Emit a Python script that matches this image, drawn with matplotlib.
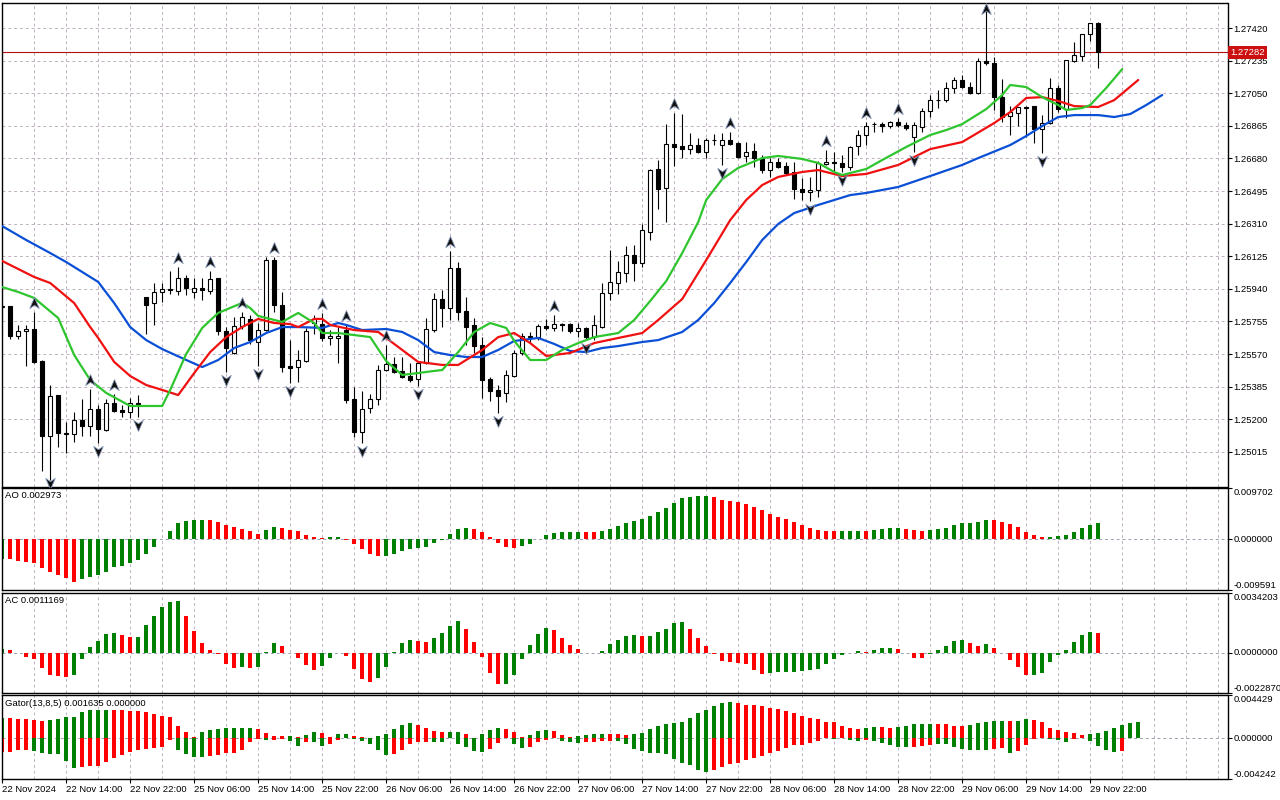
import numpy as np
import matplotlib
matplotlib.use("Agg")
import matplotlib.pyplot as plt
from matplotlib.path import Path
from matplotlib.patches import Rectangle

plt.rcParams['font.family'] = ['Liberation Sans', 'DejaVu Sans']

# ---------------- data ----------------
opens = [
1.25837,1.25842,1.25672,1.25701,1.25712,1.25530,1.25105,1.25337,1.25122,1.25116,
1.25196,1.25161,1.25258,1.25139,1.25292,1.25252,1.25241,1.25292,1.25893,1.25859,
1.25922,1.25935,1.25928,1.26001,1.25922,1.25945,1.25928,1.26001,1.25701,1.25576,
1.25729,1.25769,1.25638,1.25706,1.26103,1.25848,1.25502,1.25496,1.25530,1.25746,
1.25740,1.25661,1.25661,1.25706,1.25315,1.25127,1.25264,1.25315,1.25479,1.25513,
1.25474,1.25445,1.25428,1.25519,1.25706,1.25882,1.25831,1.26058,1.25814,1.25735,
1.25621,1.25428,1.25366,1.25349,1.25445,1.25576,1.25666,1.25666,1.25729,1.25718,
1.25740,1.25740,1.25701,1.25718,1.25666,1.25723,1.25916,1.25973,1.26030,1.26132,
1.26086,1.26262,1.26620,1.26512,1.26762,1.26750,1.26733,1.26756,1.26716,1.26784,
1.26756,1.26784,1.26767,1.26694,1.26722,1.26682,1.26614,1.26660,1.26637,1.26603,
1.26506,1.26489,1.26501,1.26648,1.26660,1.26654,1.26631,1.26750,1.26813,1.26875,
1.26875,1.26864,1.26887,1.26870,1.26801,1.26858,1.26949,1.27011,1.27011,1.27080,
1.27125,1.27085,1.27051,1.27233,1.27221,1.27028,1.26921,1.26938,1.26972,1.26977,
1.26847,1.26881,1.27080,1.26960,1.27233,1.27261,1.27386,1.27448]
highs = [
1.25854,1.25845,1.25735,1.25735,1.25808,1.25536,1.25394,1.25340,1.25184,1.25241,
1.25315,1.25371,1.25281,1.25315,1.25343,1.25281,1.25320,1.25337,1.25895,1.25973,
1.25973,1.26041,1.26064,1.26018,1.26001,1.26001,1.26041,1.26004,1.25723,1.25780,
1.25808,1.25791,1.25746,1.26121,1.26121,1.25922,1.25650,1.25593,1.25718,1.25791,
1.25803,1.25706,1.25723,1.25735,1.25383,1.25360,1.25343,1.25508,1.25621,1.25553,
1.25553,1.25519,1.25525,1.25774,1.25916,1.25933,1.26155,1.26092,1.25893,1.25774,
1.25666,1.25440,1.25394,1.25479,1.25593,1.25689,1.25695,1.25740,1.25769,1.25791,
1.25746,1.25746,1.25746,1.25723,1.25791,1.25973,1.26160,1.26098,1.26183,1.26189,
1.26308,1.26620,1.26671,1.26875,1.26938,1.26932,1.26824,1.26796,1.26796,1.26819,
1.26824,1.26830,1.26773,1.26773,1.26767,1.26699,1.26682,1.26682,1.26660,1.26660,
1.26569,1.26575,1.26665,1.26728,1.26716,1.26699,1.26750,1.26841,1.26887,1.26887,
1.26887,1.26892,1.26909,1.26887,1.26887,1.26966,1.27040,1.27068,1.27114,1.27142,
1.27153,1.27114,1.27250,1.27551,1.27256,1.27131,1.26977,1.26972,1.26977,1.26980,
1.26926,1.27136,1.27097,1.27238,1.27341,1.27386,1.27448,1.27452]
lows = [
1.25825,1.25655,1.25655,1.25502,1.25519,1.24906,1.24855,1.25042,1.25008,1.25071,
1.25105,1.25105,1.25065,1.25133,1.25241,1.25213,1.25207,1.25213,1.25683,1.25735,
1.25865,1.25911,1.25905,1.25905,1.25888,1.25877,1.25911,1.25679,1.25468,1.25570,
1.25712,1.25627,1.25502,1.25701,1.25808,1.25468,1.25405,1.25411,1.25525,1.25684,
1.25644,1.25621,1.25519,1.25292,1.25099,1.25065,1.25235,1.25281,1.25476,1.25462,
1.25434,1.25411,1.25388,1.25516,1.25695,1.25723,1.25763,1.25763,1.25621,1.25576,
1.25320,1.25303,1.25235,1.25298,1.25440,1.25564,1.25638,1.25650,1.25706,1.25701,
1.25701,1.25689,1.25666,1.25650,1.25650,1.25720,1.25876,1.25911,1.25979,1.25984,
1.26064,1.26217,1.26393,1.26319,1.26637,1.26682,1.26705,1.26711,1.26682,1.26756,
1.26643,1.26756,1.26682,1.26660,1.26631,1.26597,1.26575,1.26626,1.26586,1.26450,
1.26444,1.26438,1.26461,1.26643,1.26597,1.26603,1.26614,1.26699,1.26756,1.26830,
1.26830,1.26853,1.26858,1.26841,1.26716,1.26830,1.26915,1.26966,1.27000,1.27051,
1.27080,1.27045,1.27048,1.27210,1.26955,1.26887,1.26813,1.26864,1.26801,1.26767,
1.26711,1.26878,1.26943,1.26909,1.27227,1.27233,1.27346,1.27193]
closes = [
1.25842,1.25672,1.25701,1.25712,1.25525,1.25105,1.25332,1.25122,1.25116,1.25196,
1.25161,1.25258,1.25144,1.25292,1.25247,1.25241,1.25292,1.25286,1.25848,1.25922,
1.25939,1.25939,1.26001,1.25945,1.25945,1.25933,1.25996,1.25701,1.25604,1.25729,
1.25780,1.25650,1.25706,1.26103,1.25848,1.25496,1.25491,1.25536,1.25701,1.25769,
1.25661,1.25672,1.25672,1.25309,1.25127,1.25258,1.25315,1.25479,1.25513,1.25468,
1.25440,1.25422,1.25519,1.25712,1.25882,1.25831,1.26058,1.25808,1.25723,1.25615,
1.25422,1.25360,1.25332,1.25451,1.25576,1.25672,1.25672,1.25729,1.25718,1.25740,
1.25735,1.25701,1.25718,1.25666,1.25735,1.25916,1.25979,1.26035,1.26132,1.26086,
1.26274,1.26617,1.26506,1.26762,1.26745,1.26733,1.26756,1.26716,1.26784,1.26787,
1.26784,1.26762,1.26688,1.26716,1.26682,1.26614,1.26660,1.26631,1.26597,1.26506,
1.26489,1.26501,1.26654,1.26660,1.26654,1.26631,1.26745,1.26813,1.26864,1.26878,
1.26864,1.26887,1.26870,1.26853,1.26870,1.26949,1.27011,1.27014,1.27080,1.27125,
1.27085,1.27051,1.27233,1.27221,1.27028,1.26915,1.26943,1.26972,1.26969,1.26847,
1.26881,1.27080,1.26960,1.27238,1.27267,1.27386,1.27448,1.27282]

# Alligator lines (bar index, price)
jaw_idx = [0,3,6,8,12,14,16,18,20,23,25,27,29,31,33,35,37,40,42,43,45,48,50,52,54,56,58,60,62,64,
           67,69,71,73,75,77,80,82,85,87,89,91,93,95,97,99,102,106,108,112,116,120,122,126,128,130,
           132,134,137,139,141,143,145]
jaw_val = [1.26296,1.26217,1.26143,1.26092,1.25979,1.25859,1.25723,1.25649,1.25598,1.25536,
           1.25496,1.25536,1.25604,1.25638,1.25689,1.25723,1.25723,1.25718,1.25746,1.25735,
           1.25706,1.25712,1.25695,1.25649,1.25581,1.25564,1.25553,1.25553,1.25593,1.25644,
           1.25661,1.25627,1.25587,1.25581,1.25604,1.25615,1.25638,1.25649,1.25695,1.25763,
           1.25859,1.25973,1.26092,1.26217,1.26308,1.26370,1.26416,1.26472,1.26484,1.26518,
           1.26580,1.26643,1.26682,1.26756,1.26807,1.26864,1.26915,1.26926,1.26926,1.26915,
           1.26932,1.26983,1.27040]
teeth_idx = [0,4,6,9,11,12,14,16,18,20,22,24,26,28,30,32,34,36,37,39,40,41,44,47,50,52,55,57,60,62,
             64,66,68,71,74,77,80,82,85,88,91,93,95,97,100,102,105,108,112,116,120,124,126,128,130,
             132,134,137,139,142]
teeth_val = [1.26098,1.26007,1.25973,1.25859,1.25723,1.25661,1.25525,1.25445,1.25394,1.25366,
             1.25337,1.25462,1.25581,1.25666,1.25723,1.25769,1.25746,1.25740,1.25723,1.25769,
             1.25769,1.25735,1.25706,1.25695,1.25593,1.25525,1.25508,1.25508,1.25593,1.25666,
             1.25689,1.25632,1.25559,1.25576,1.25632,1.25661,1.25689,1.25763,1.25882,1.26103,
             1.26330,1.26444,1.26529,1.26575,1.26603,1.26614,1.26580,1.26592,1.26643,1.26733,
             1.26773,1.26881,1.26943,1.27023,1.27028,1.27006,1.26977,1.26972,1.27011,1.27125]
lips_idx = [0,2,4,7,9,11,13,16,20,21,23,25,27,30,31,32,35,37,39,40,42,46,48,50,52,54,55,57,59,61,
            63,64,66,68,70,72,74,77,79,81,83,85,87,88,90,92,95,97,100,102,104,105,108,110,113,116,
            118,120,123,125,126,128,130,132,133,135,136,138,140]
lips_val = [1.25950,1.25922,1.25888,1.25774,1.25564,1.25422,1.25349,1.25275,1.25275,1.25366,
            1.25570,1.25718,1.25803,1.25860,1.25831,1.25786,1.25752,1.25803,1.25746,1.25689,
            1.25689,1.25666,1.25530,1.25451,1.25462,1.25474,1.25479,1.25581,1.25695,1.25746,
            1.25718,1.25644,1.25536,1.25536,1.25593,1.25632,1.25666,1.25689,1.25763,1.25871,
            1.25984,1.26143,1.26319,1.26444,1.26563,1.26626,1.26682,1.26694,1.26677,1.26654,
            1.26603,1.26586,1.26620,1.26671,1.26745,1.26813,1.26841,1.26875,1.26960,1.27040,
            1.27097,1.27085,1.27028,1.26983,1.26955,1.26966,1.26983,1.27080,1.27187]

fractal_up = [4,11,14,22,26,30,34,40,43,48,56,69,84,91,103,108,112,123]
fractal_down = [6,12,17,28,32,36,45,52,62,73,90,101,105,114,130]

ao = [
-0.00370,-0.00383,-0.00408,-0.00427,-0.00447,-0.00542,-0.00619,-0.00683,-0.00746,-0.00810,
-0.00766,-0.00715,-0.00683,-0.00619,-0.00536,-0.00504,-0.00459,-0.00396,-0.00287,-0.00160,
0.00010,0.00147,0.00306,0.00345,0.00362,0.00364,0.00362,0.00325,0.00262,0.00223,
0.00185,0.00147,0.00089,0.00166,0.00223,0.00204,0.00166,0.00147,0.00083,0.00032,
0.00013,0.00032,0.00033,-0.00010,-0.00096,-0.00191,-0.00287,-0.00325,-0.00320,-0.00287,
-0.00236,-0.00191,-0.00179,-0.00153,-0.00077,-0.00020,0.00089,0.00185,0.00204,0.00185,
0.00128,0.00032,-0.00077,-0.00153,-0.00179,-0.00140,-0.00096,-0.00005,0.00070,0.00108,
0.00128,0.00130,0.00131,0.00127,0.00126,0.00147,0.00185,0.00242,0.00300,0.00345,
0.00376,0.00434,0.00510,0.00587,0.00683,0.00778,0.00798,0.00817,0.00819,0.00798,
0.00740,0.00721,0.00702,0.00664,0.00606,0.00549,0.00472,0.00415,0.00376,0.00319,
0.00262,0.00204,0.00166,0.00147,0.00145,0.00147,0.00148,0.00149,0.00147,0.00166,
0.00185,0.00204,0.00206,0.00185,0.00166,0.00147,0.00166,0.00191,0.00204,0.00262,
0.00300,0.00302,0.00319,0.00357,0.00355,0.00319,0.00281,0.00223,0.00128,0.00070,
0.00032,0.00034,0.00051,0.00070,0.00128,0.00204,0.00262,0.002973]
ao_col = ("GRRRRRRRRR" "GGGGGGGGGG" "GGGGGGRRRR" "RRRGGRRRRR" "RGGRRRRRGG" "GGGGGGGGGR"
          "RRRRRGGGGG" "GGGRRGGGGG" "GGGGGGGGGR" "RRRRRRRRRR" "RRRRRGGGRG" "GGGRRRGGGG"
          "GGGGRRRRRR" "RGGGGGGG")

ac = [
0.00019,0.00015,-0.00004,-0.00023,-0.00035,-0.00086,-0.00128,-0.00134,-0.00140,-0.00128,
-0.00038,0.00033,0.00067,0.00109,0.00115,0.00102,0.00090,0.00091,0.00159,0.00211,
0.00263,0.00291,0.00297,0.00211,0.00125,0.00058,0.00015,-0.00010,-0.00063,-0.00086,
-0.00081,-0.00086,-0.00081,0.00004,0.00058,0.00038,-0.00004,-0.00029,-0.00071,-0.00098,
-0.00077,-0.00029,-0.00003,-0.00019,-0.00092,-0.00150,-0.00167,-0.00144,-0.00081,0.00002,
0.00058,0.00073,0.00067,0.00063,0.00086,0.00115,0.00153,0.00182,0.00134,0.00063,
-0.00023,-0.00115,-0.00178,-0.00177,-0.00128,-0.00038,0.00044,0.00109,0.00140,0.00130,
0.00082,0.00044,0.00019,-0.00002,-0.00004,0.00010,0.00052,0.00073,0.00096,0.00102,
0.00096,0.00097,0.00121,0.00134,0.00173,0.00178,0.00134,0.00082,0.00038,-0.00010,
-0.00048,-0.00054,-0.00058,-0.00063,-0.00096,-0.00121,-0.00115,-0.00111,-0.00109,-0.00108,
-0.00102,-0.00096,-0.00092,-0.00063,-0.00038,-0.00015,0.00001,0.00010,0.00006,0.00015,
0.00027,0.00028,0.00021,-0.00004,-0.00029,-0.00030,-0.00010,0.00015,0.00038,0.00067,
0.00073,0.00054,0.00038,0.00048,0.00025,-0.00004,-0.00044,-0.00081,-0.00130,-0.00125,
-0.00115,-0.00052,-0.00015,0.00015,0.00061,0.00100,0.00119,0.0011169]
ac_col = ("GRRRRRRRRG" "GGGGGRRGGG" "GGGRRRRRRR" "GRGGGRRRRR" "GGGRRRRGGG" "GGRRGGGGRR"
          "RRRGGGGGGR" "RRRRRGGGGG" "RGGGGGRRRR" "RRRRRRGGGG" "GGGGGGGGRG" "GGRRRRGGGG"
          "GRRGRRRRRG" "GGGGGGGR")

gator_up = [
0.00207,0.00206,0.00197,0.00196,0.00183,0.00182,0.00183,0.00197,0.00217,0.00218,
0.00269,0.00286,0.00287,0.00288,0.00287,0.00286,0.00285,0.00283,0.00269,0.00252,
0.00231,0.00217,0.00128,0.00059,0.00017,0.00059,0.00086,0.00097,0.00104,0.00107,
0.00108,0.00109,0.00097,0.00055,0.00024,0.00023,0.00025,0.00010,0.00035,0.00066,
0.00055,0.00010,0.00045,0.00046,0.00024,0.00010,0.00002,0.00024,0.00045,0.00095,
0.00138,0.00155,0.00138,0.00104,0.00076,0.00066,0.00067,0.00068,0.00045,0.00003,
0.00045,0.00086,0.00107,0.00097,0.00066,0.00017,0.00035,0.00076,0.00086,0.00076,
0.00035,0.00017,0.00018,0.00035,0.00045,0.00046,0.00045,0.00044,0.00035,0.00045,
0.00055,0.00097,0.00128,0.00148,0.00159,0.00169,0.00211,0.00262,0.00293,0.00335,
0.00366,0.00376,0.00366,0.00345,0.00344,0.00335,0.00314,0.00304,0.00283,0.00262,
0.00231,0.00210,0.00200,0.00172,0.00171,0.00128,0.00107,0.00097,0.00107,0.00117,
0.00116,0.00107,0.00117,0.00128,0.00148,0.00149,0.00150,0.00148,0.00147,0.00128,
0.00127,0.00138,0.00159,0.00169,0.00179,0.00180,0.00179,0.00180,0.00200,0.00190,
0.00169,0.00107,0.00086,0.00066,0.00055,0.00035,0.00045,0.00055,0.00076,0.00107,
0.00138,0.00162,0.001635]
gator_up_col = ("GRRRRRGGGG" "GGGGRRRRRR" "RRRRRGGGGG" "GGRRRRGRGG" "RRGGRRRGGG" "GGRRRRGGRR"
                "GGGRRRGGGR" "RRGGGGRRRG" "GGGGGGGGGG" "GGRRRRRRRR" "RRRRRRRRGG" "RRGGGGGRRR"
                "RGGGGGRGGR" "RRRRRRGGGG" "GGG")
gator_dn = [
-0.00145,-0.00138,-0.00121,-0.00120,-0.00128,-0.00148,-0.00162,-0.00163,-0.00231,-0.00304,
-0.00293,-0.00292,-0.00283,-0.00242,-0.00207,-0.00173,-0.00138,-0.00121,-0.00110,-0.00104,
-0.00093,-0.00017,-0.00121,-0.00166,-0.00190,-0.00197,-0.00183,-0.00173,-0.00155,-0.00148,
-0.00121,-0.00035,-0.00010,-0.00017,-0.00015,-0.00007,-0.00028,-0.00076,-0.00035,-0.00036,
-0.00076,-0.00055,-0.00017,-0.00002,-0.00007,-0.00024,-0.00055,-0.00121,-0.00169,-0.00159,
-0.00121,-0.00055,-0.00038,-0.00035,-0.00036,-0.00037,-0.00003,-0.00055,-0.00086,-0.00131,
-0.00141,-0.00107,-0.00045,-0.00001,-0.00055,-0.00097,-0.00086,-0.00035,-0.00017,-0.00001,
-0.00024,-0.00035,-0.00045,-0.00044,-0.00035,-0.00034,-0.00024,-0.00025,-0.00055,-0.00107,
-0.00131,-0.00148,-0.00149,-0.00159,-0.00211,-0.00259,-0.00280,-0.00328,-0.00345,-0.00331,
-0.00293,-0.00262,-0.00252,-0.00224,-0.00200,-0.00179,-0.00148,-0.00131,-0.00097,-0.00069,
-0.00069,-0.00045,-0.00024,-0.00002,-0.00010,-0.00003,-0.00017,-0.00024,-0.00017,-0.00024,
-0.00045,-0.00066,-0.00086,-0.00087,-0.00086,-0.00085,-0.00066,-0.00059,-0.00060,-0.00086,
-0.00110,-0.00117,-0.00118,-0.00119,-0.00107,-0.00106,-0.00148,-0.00128,-0.00066,-0.00010,
-0.00002,-0.00010,-0.00017,-0.00035,-0.00010,-0.00002,-0.00024,-0.00076,-0.00117,-0.00138,
-0.00128]
gator_dn_col = ("RRRRGGGGGG" "RRRRRRRRRR" "RRGGGGRRRR" "RRRGRRGGRG" "GRRRGGGGGR" "RRRRGGRGGG"
                "GRRRGGRRRG" "GGGRRRRGGG" "GGGGGGGGGR" "RRRRRRRRRR" "RRRRGRGGRG" "GGGGRRRGGG"
                "GGGGRRGRRR" "RGGGRRGGGG" "R")

price_ticks = [1.25015,1.25200,1.25385,1.25570,1.25755,1.25940,1.26125,1.26310,
               1.26495,1.26680,1.26865,1.27050,1.27235,1.27420]
last_price = 1.27282
time_tick_bars = list(range(0, 137, 8))
time_labels = ["22 Nov 2024","22 Nov 14:00","22 Nov 22:00","25 Nov 06:00","25 Nov 14:00",
               "25 Nov 22:00","26 Nov 06:00","26 Nov 14:00","26 Nov 22:00","27 Nov 06:00",
               "27 Nov 14:00","27 Nov 22:00","28 Nov 06:00","28 Nov 14:00","28 Nov 22:00",
               "29 Nov 06:00","29 Nov 14:00","29 Nov 22:00"]
ao_ticks = [-0.009591, 0.0, 0.009702]
ac_ticks = [-0.0022870, 0.0, 0.0034203]
gator_ticks = [-0.004242, 0.0, 0.004429]

# ---------------- styling ----------------
GREEN = '#008000'
RED = '#ff0000'
GRID = '#c0b0c0'
FS = 6.8
W, H = 1280, 800

fig = plt.figure(figsize=(12.8, 8), dpi=100)
fig.patch.set_facecolor('white')

def rect(x0, y0, x1, y1):
    return [x0 / W, 1 - y1 / H, (x1 - x0) / W, (y1 - y0) / H]

ax = fig.add_axes(rect(2, 2.5, 1227.5, 486.5))
ax_ao = fig.add_axes(rect(2, 488, 1227.5, 589.5))
ax_ac = fig.add_axes(rect(2, 593, 1227.5, 692.7))
ax_g = fig.add_axes(rect(2, 695.3, 1227.5, 779.3))
axes = [ax, ax_ao, ax_ac, ax_g]

XMIN, XMAX = -0.025, 153.16
for a in axes:
    a.set_xlim(XMIN, XMAX)
    a.set_facecolor('white')
    for s in a.spines.values():
        s.set_color('black')
        s.set_linewidth(1.0)
    a.tick_params(axis='x', bottom=False, labelbottom=False)
    for gx in range(4, 153, 4):
        a.axvline(gx, color=GRID, lw=0.7, ls=(0, (3, 3)), zorder=0)

# ---- main price chart ----
ax.set_ylim(1.24818, 1.27565)
for p in price_ticks:
    ax.axhline(p, color=GRID, lw=0.7, ls=(0, (3, 3)), zorder=0)

n = len(opens)
bw = 0.56
for i in range(n):
    o, h, l, c = opens[i], highs[i], lows[i], closes[i]
    ax.plot([i, i], [l, h], color='black', lw=0.8, zorder=2, solid_capstyle='butt')
    bottom = min(o, c)
    height = abs(c - o)
    fc = 'white' if c >= o else 'black'
    ax.add_patch(Rectangle((i - bw / 2, bottom), bw, height, facecolor=fc,
                           edgecolor='black', lw=0.8, zorder=3))

ax.plot(jaw_idx, jaw_val, color='#0a4fd6', lw=1.6, zorder=4, solid_capstyle='round')
ax.plot(teeth_idx, teeth_val, color='#f01010', lw=1.6, zorder=5, solid_capstyle='round')
ax.plot(lips_idx, lips_val, color='#2ec52e', lw=1.6, zorder=6, solid_capstyle='round')

# fractals
up_path = Path([(0, 1), (0.8, -0.85), (0, -0.3), (-0.8, -0.85), (0, 1)],
               [Path.MOVETO, Path.LINETO, Path.LINETO, Path.LINETO, Path.CLOSEPOLY])
dn_path = Path([(0, -1), (0.8, 0.85), (0, 0.3), (-0.8, 0.85), (0, -1)],
               [Path.MOVETO, Path.LINETO, Path.LINETO, Path.LINETO, Path.CLOSEPOLY])
trans = ax.transData
inv = trans.inverted()
top_px = ax.transAxes.transform((0, 1))[1]
bot_px = ax.transAxes.transform((0, 0))[1]
ux, uy = [], []
for i in fractal_up:
    px, py = trans.transform((i, highs[i]))
    py = min(py + 9, top_px - 6)
    ux.append(i)
    uy.append(inv.transform((px, py))[1])
dx, dy = [], []
for i in fractal_down:
    px, py = trans.transform((i, lows[i]))
    py = max(py - 8, bot_px + 4)
    dx.append(i)
    dy.append(inv.transform((px, py))[1])
ax.plot(ux, uy, ls='none', marker=up_path, ms=8.5, mfc='#111111', mec='#8090b0', mew=0.6, zorder=7)
ax.plot(dx, dy, ls='none', marker=dn_path, ms=8.5, mfc='#111111', mec='#8090b0', mew=0.6, zorder=7)

# last price line and label
ax.axhline(last_price, color='#b01010', lw=0.8, zorder=1)
ax.yaxis.tick_right()
ax.set_yticks(price_ticks)
ax.set_yticklabels([f"{p:.5f}" for p in price_ticks])
ax.tick_params(axis='y', direction='out', length=3, width=0.8, labelsize=FS, pad=1.5)
ax.annotate(f"{last_price:.5f}", xy=(1, last_price), xycoords=('axes fraction', 'data'),
            xytext=(2.0, 0), textcoords='offset points', ha='left', va='center',
            fontsize=FS, color='white', annotation_clip=False,
            bbox=dict(boxstyle='square,pad=0.2', fc='#cc1010', ec='none'))

# ---- indicator panels ----
def histo(a, idx, vals, cols):
    colors = [GREEN if ch == 'G' else RED for ch in cols]
    a.bar(idx, vals, width=0.5, color=colors, linewidth=0, zorder=2)

def panel_axis(a, ticks, fmt, title):
    a.axhline(0, color='#98a0b0', lw=0.7, ls=(0, (3, 3)), zorder=1)
    a.set_ylim(ticks[0], ticks[-1])
    a.yaxis.tick_right()
    a.set_yticks(ticks)
    a.set_yticklabels([fmt.format(t) for t in ticks])
    a.tick_params(axis='y', direction='out', length=3, width=0.8, labelsize=FS, pad=1.5)
    labs = a.get_yticklabels()
    labs[0].set_va('bottom')
    labs[1].set_va('center')
    labs[2].set_va('top')
    a.annotate(title, xy=(0, 1), xycoords='axes fraction', xytext=(2.5, -2.5),
               textcoords='offset points', ha='left', va='top', fontsize=FS)

histo(ax_ao, range(len(ao)), ao, ao_col)
panel_axis(ax_ao, ao_ticks, "{:.6f}", "AO 0.002973")

histo(ax_ac, range(len(ac)), ac, ac_col)
panel_axis(ax_ac, ac_ticks, "{:.7f}", "AC 0.0011169")

histo(ax_g, range(len(gator_up)), gator_up, gator_up_col)
histo(ax_g, range(len(gator_dn)), gator_dn, gator_dn_col)
panel_axis(ax_g, gator_ticks, "{:.6f}", "Gator(13,8,5) 0.001635 0.000000")

ax_g.set_xticks(time_tick_bars)
ax_g.set_xticklabels(time_labels)
ax_g.tick_params(axis='x', bottom=True, labelbottom=True, direction='out', length=3,
                 width=0.8, labelsize=FS, pad=1)
for lab in ax_g.get_xticklabels():
    lab.set_ha('left')

fig.savefig("out.png", dpi=100, facecolor='white')
